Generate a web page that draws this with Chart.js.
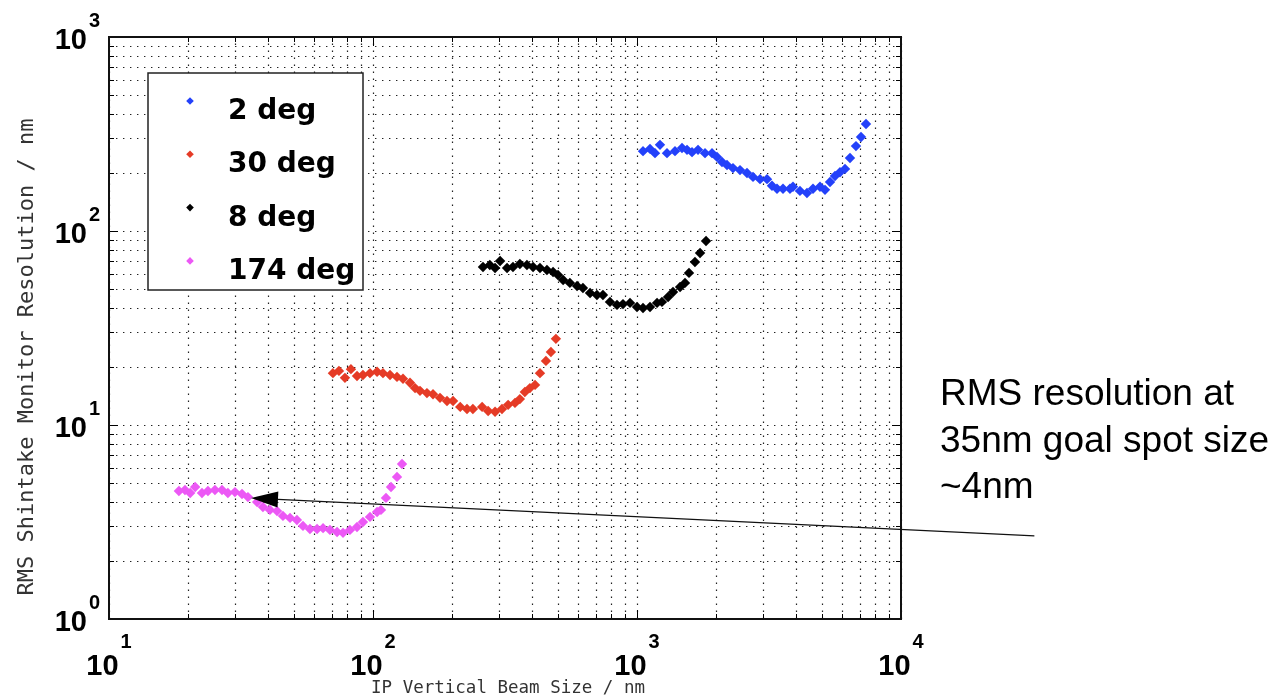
<!DOCTYPE html>
<html>
<head>
<meta charset="utf-8">
<script src="https://cdn.jsdelivr.net/npm/chart.js@4.4.0/dist/chart.umd.min.js"></script>
<style>
html, body { margin: 0; padding: 0; background: #fff; }
canvas { display: block; }
</style>
</head>
<body>
<canvas id="myChart" width="1275" height="696"></canvas>
<script>
// series (IP vertical beam size nm, RMS resolution nm)
var seriesNames = ['2 deg', '30 deg', '8 deg', '174 deg'];
var seriesColors = ['#2341fa', '#e53b26', '#000000', '#ec58f5'];

var deg2X = [1054, 1120, 1170, 1222, 1299, 1393, 1481, 1547, 1616, 1703, 1810, 1924, 2009, 2099, 2192, 2310, 2456, 2610, 2751, 2924, 3108, 3246, 3391, 3573, 3797, 3898, 4143, 4404, 4642, 4933, 5154, 5384, 5623, 5873, 6137, 6409, 6752, 7055, 7369];
var deg2Y = [258, 265, 252, 278, 252, 258, 268, 262, 255, 262, 252, 252, 241, 227, 219, 211, 206, 199, 190, 185, 185, 171, 165, 165, 165, 169, 161, 157, 165, 169, 163, 179, 192, 201, 209, 238, 274, 305, 356];

var deg30X = [70.5, 74.3, 78.3, 82.5, 87.0, 91.6, 97.4, 103.6, 109.1, 116.0, 123.3, 129.9, 138.1, 144.3, 150.7, 160.1, 168.8, 179.4, 190.7, 201, 214, 227, 239, 259, 273, 290, 308, 325, 345, 360, 376, 393, 411, 429, 452, 472, 493];
var deg30Y = [18.5, 19.0, 17.5, 19.4, 17.9, 18.1, 18.5, 18.8, 18.5, 18.1, 17.7, 17.3, 16.5, 15.5, 15.0, 14.6, 14.4, 13.8, 13.3, 13.3, 12.4, 12.1, 12.1, 12.4, 11.8, 11.7, 12.1, 12.7, 13.0, 13.6, 14.8, 15.5, 16.1, 18.5, 21.4, 23.8, 27.8];

var deg8X = [261, 277, 290, 303, 322, 339, 360, 383, 404, 429, 456, 481, 502, 525, 557, 593, 624, 664, 705, 743, 790, 840, 885, 941, 1000, 1054, 1120, 1191, 1243, 1311, 1369, 1456, 1520, 1574, 1658, 1733, 1826];
var deg8Y = [65.2, 66.8, 64.5, 70.0, 64.5, 65.2, 67.6, 66.8, 65.2, 64.5, 63.0, 61.5, 59.3, 55.9, 54.0, 52.1, 50.8, 47.9, 46.8, 46.8, 43.1, 41.6, 42.0, 42.6, 40.6, 40.1, 40.6, 42.6, 43.1, 45.7, 48.5, 51.4, 54.0, 60.8, 69.2, 77.0, 88.8];

var deg174X = [18.4, 19.4, 20.3, 21.2, 22.5, 23.7, 25.2, 26.8, 28.2, 30.0, 31.9, 33.6, 36.4, 38.3, 40.7, 43.3, 45.6, 48.5, 51.5, 54.3, 57.7, 61.4, 64.7, 68.7, 73.1, 77.0, 81.8, 87.0, 91.6, 97.4, 103.6, 107.2, 112.0, 117.0, 123.3, 128.8];
var deg174Y = [4.57, 4.62, 4.46, 4.79, 4.46, 4.57, 4.62, 4.62, 4.46, 4.51, 4.41, 4.25, 4.01, 3.78, 3.65, 3.60, 3.40, 3.32, 3.24, 3.02, 2.91, 2.91, 2.94, 2.88, 2.81, 2.78, 2.88, 2.98, 3.16, 3.36, 3.56, 3.65, 4.21, 4.79, 5.40, 6.30];

// decade exponents used for the tick labels
var xExps = [1, 2, 3, 4];
var yExps = [0, 1, 2, 3];

var xTitle = 'IP Vertical Beam Size / nm';
var yTitle = 'RMS Shintake Monitor Resolution / nm';
var noteLines = ['RMS resolution at', '35nm goal spot size', '~4nm'];
// arrow from the note to the goal point, in data units
var arrowTip = [34.5, 4.2];
var arrowTail = [32000, 2.68];

function toPoints(xs, ys) {
  var pts = [];
  for (var i = 0; i < xs.length; i++) pts.push({x: xs[i], y: ys[i]});
  return pts;
}

function logGrid(exps) {
  // 1..9 times each decade, between first and last decade
  var vals = [];
  for (var e = exps[0]; e < exps[exps.length - 1]; e++) {
    for (var m = 1; m < 10; m++) vals.push({v: m * Math.pow(10, e), major: m === 1});
  }
  vals.push({v: Math.pow(10, exps[exps.length - 1]), major: true});
  return vals;
}

var allX = [deg2X, deg30X, deg8X, deg174X];
var allY = [deg2Y, deg30Y, deg8Y, deg174Y];
var datasets = [];
for (var s = 0; s < seriesNames.length; s++) {
  datasets.push({
    label: seriesNames[s],
    data: toPoints(allX[s], allY[s]),
    backgroundColor: seriesColors[s],
    borderWidth: 0,
    pointStyle: 'rectRot',
    pointRadius: 5.2,
    pointHoverRadius: 5.2
  });
}

function diamond(ctx, x, y, r, color) {
  ctx.fillStyle = color;
  ctx.beginPath();
  ctx.moveTo(x, y - r);
  ctx.lineTo(x + r, y);
  ctx.lineTo(x, y + r);
  ctx.lineTo(x - r, y);
  ctx.closePath();
  ctx.fill();
}

var decor = {
  id: 'decor',
  beforeDatasetsDraw: function(chart) {
    var ctx = chart.ctx, a = chart.chartArea;
    var xs = chart.scales.x, ys = chart.scales.y;
    var gx = logGrid(xExps), gy = logGrid(yExps);
    ctx.save();
    // dotted grid
    ctx.strokeStyle = '#222';
    ctx.lineWidth = 1.2;
    ctx.setLineDash([1.4, 5.6]);
    gx.forEach(function(t) {
      var p = Math.round(xs.getPixelForValue(t.v)) + 0.5;
      ctx.beginPath(); ctx.moveTo(p, a.bottom); ctx.lineTo(p, a.top); ctx.stroke();
    });
    gy.forEach(function(t) {
      var p = Math.round(ys.getPixelForValue(t.v)) + 0.5;
      ctx.beginPath(); ctx.moveTo(a.left, p); ctx.lineTo(a.right, p); ctx.stroke();
    });
    // inward ticks on all four sides
    ctx.setLineDash([]);
    ctx.strokeStyle = '#000';
    ctx.lineWidth = 1;
    gx.forEach(function(t) {
      var p = Math.round(xs.getPixelForValue(t.v)) + 0.5;
      var len = t.major ? 9 : 5;
      ctx.beginPath();
      ctx.moveTo(p, a.bottom); ctx.lineTo(p, a.bottom - len);
      ctx.moveTo(p, a.top); ctx.lineTo(p, a.top + len);
      ctx.stroke();
    });
    gy.forEach(function(t) {
      var p = Math.round(ys.getPixelForValue(t.v)) + 0.5;
      var len = t.major ? 9 : 5;
      ctx.beginPath();
      ctx.moveTo(a.left, p); ctx.lineTo(a.left + len, p);
      ctx.moveTo(a.right, p); ctx.lineTo(a.right - len, p);
      ctx.stroke();
    });
    ctx.restore();
  },
  afterDatasetsDraw: function(chart) {
    var ctx = chart.ctx, a = chart.chartArea;
    var xs = chart.scales.x, ys = chart.scales.y;
    ctx.save();

    // frame
    ctx.strokeStyle = '#111';
    ctx.lineWidth = 2;
    ctx.strokeRect(a.left, a.top, a.right - a.left, a.bottom - a.top);

    // legend box
    var lx = a.left + 39, ly = a.top + 36, lw = 215, lh = 217;
    ctx.fillStyle = '#fff';
    ctx.fillRect(lx, ly, lw, lh);
    ctx.lineWidth = 1.5;
    ctx.strokeStyle = '#222';
    ctx.strokeRect(lx, ly, lw, lh);
    ctx.font = 'bold 28px "DejaVu Sans", sans-serif';
    ctx.textAlign = 'left';
    ctx.textBaseline = 'alphabetic';
    chart.data.datasets.forEach(function(ds, i) {
      var rowY = ly + 28 + i * 53.3;
      diamond(ctx, lx + 42, rowY, 3.8, ds.backgroundColor);
      ctx.fillStyle = '#000';
      ctx.fillText(ds.label, lx + 80, rowY + 18);
    });

    // y tick labels 10^n
    ctx.fillStyle = '#000';
    yExps.forEach(function(e) {
      var p = ys.getPixelForValue(Math.pow(10, e));
      ctx.textBaseline = 'middle';
      ctx.font = 'bold 29px "Liberation Sans", Arial, sans-serif';
      ctx.textAlign = 'right';
      ctx.fillText('10', a.left - 22, p + 4);
      ctx.font = 'bold 20px "Liberation Sans", Arial, sans-serif';
      ctx.textAlign = 'left';
      ctx.fillText(String(e), a.left - 20, p - 16);
    });

    // x tick labels 10^n
    xExps.forEach(function(e) {
      var p = xs.getPixelForValue(Math.pow(10, e));
      ctx.textBaseline = 'middle';
      ctx.textAlign = 'left';
      ctx.font = 'bold 29px "Liberation Sans", Arial, sans-serif';
      var w10 = ctx.measureText('10').width;
      ctx.font = 'bold 20px "Liberation Sans", Arial, sans-serif';
      var we = ctx.measureText(String(e)).width;
      var start = p - (w10 + 2 + we) / 2;
      ctx.font = 'bold 29px "Liberation Sans", Arial, sans-serif';
      ctx.fillText('10', start, a.bottom + 48);
      ctx.font = 'bold 20px "Liberation Sans", Arial, sans-serif';
      ctx.fillText(String(e), start + w10 + 2, a.bottom + 23);
    });

    // axis titles
    ctx.fillStyle = '#333';
    ctx.font = '17.5px "DejaVu Sans Mono", monospace';
    ctx.textAlign = 'center';
    ctx.textBaseline = 'alphabetic';
    ctx.fillText(xTitle, 508, 693);
    ctx.save();
    ctx.translate(33, 357);
    ctx.rotate(-Math.PI / 2);
    ctx.font = '22px "DejaVu Sans Mono", monospace';
    ctx.fillText(yTitle, 0, 0);
    ctx.restore();

    // note text
    ctx.fillStyle = '#000';
    ctx.font = '37px "Liberation Sans", Arial, sans-serif';
    ctx.textAlign = 'left';
    ctx.textBaseline = 'alphabetic';
    noteLines.forEach(function(t, i) {
      ctx.fillText(t, 940, 405 + i * 46.5);
    });

    // arrow to the goal point
    var tx = xs.getPixelForValue(arrowTip[0]), ty = ys.getPixelForValue(arrowTip[1]);
    var sx = xs.getPixelForValue(arrowTail[0]), sy = ys.getPixelForValue(arrowTail[1]);
    var ang = Math.atan2(ty - sy, tx - sx);
    var hl = 27, hw = 8;
    var bx = tx - hl * Math.cos(ang), by = ty - hl * Math.sin(ang);
    ctx.strokeStyle = '#111';
    ctx.lineWidth = 1.3;
    ctx.beginPath(); ctx.moveTo(sx, sy); ctx.lineTo(bx, by); ctx.stroke();
    ctx.fillStyle = '#000';
    ctx.beginPath();
    ctx.moveTo(tx, ty);
    ctx.lineTo(bx + hw * Math.sin(ang), by - hw * Math.cos(ang));
    ctx.lineTo(bx - hw * Math.sin(ang), by + hw * Math.cos(ang));
    ctx.closePath();
    ctx.fill();

    ctx.restore();
  }
};

var ctx = document.getElementById('myChart').getContext('2d');
var chart = new Chart(ctx, {
  type: 'scatter',
  data: { datasets: datasets },
  options: {
    responsive: false,
    animation: false,
    layout: { padding: { left: 109, top: 37, right: 374, bottom: 77 } },
    plugins: { legend: { display: false }, tooltip: { enabled: false } },
    scales: {
      x: { type: 'logarithmic', min: 10, max: 10000, display: false },
      y: { type: 'logarithmic', min: 1, max: 1000, display: false }
    }
  },
  plugins: [decor]
});
</script>
</body>
</html>
